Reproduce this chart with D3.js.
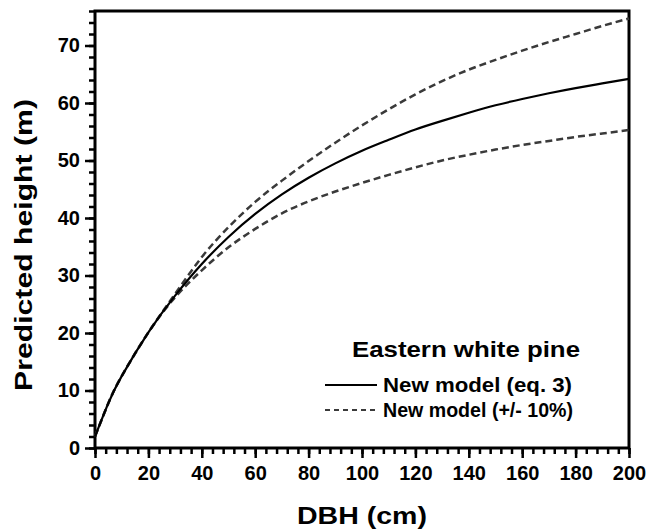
<!DOCTYPE html>
<html>
<head>
<meta charset="utf-8">
<script src="https://cdn.jsdelivr.net/npm/d3@7"></script>
<style>
  body { margin: 0; background: #fff; }
  svg { display: block; font-family: "Liberation Sans", Arial, sans-serif; font-weight: bold; }
</style>
</head>
<body>
<svg id="chart" width="650" height="531"></svg>
<script>
const dbh = [0, 5, 10, 20, 30, 40, 50, 60, 70, 80, 90, 100, 110, 120, 130, 140, 150, 160, 170, 180, 190, 200];
// predicted height (m), new model eq. 3
const heightModel = [2.0, 7.8, 12.5, 20.1, 26.5, 32.0, 36.7, 40.7, 44.1, 47.0, 49.5, 51.7, 53.6, 55.4, 56.9, 58.3, 59.6, 60.7, 61.7, 62.6, 63.4, 64.2];
// +10% / -10% bands
const heightUpper = [2.0, 7.8, 12.5, 20.1, 26.8, 33.2, 38.4, 42.8, 46.5, 49.9, 53.1, 56.1, 58.9, 61.5, 63.8, 65.8, 67.5, 69.1, 70.6, 72.0, 73.4, 74.7];
const heightLower = [2.0, 7.8, 12.5, 20.1, 26.2, 30.9, 34.9, 38.1, 40.8, 42.9, 44.6, 46.1, 47.5, 48.8, 50.0, 51.0, 51.9, 52.7, 53.4, 54.1, 54.7, 55.3];

const xTicks = [0, 20, 40, 60, 80, 100, 120, 140, 160, 180, 200];
const yTicks = [0, 10, 20, 30, 40, 50, 60, 70];

const svg = d3.select('#chart');
const margin = { top: 11, right: 21, bottom: 83, left: 95 };
const width = 650, height = 531;

const x = d3.scaleLinear().domain([0, 200]).range([margin.left, width - margin.right]);
const y = d3.scaleLinear().domain([0, 76]).range([height - margin.bottom, margin.top]);

// minor ticks first (outward), then major ticks with labels
const xMinor = d3.range(0, 201, 4);
const yMinor = d3.range(0, 77, 2);

const styleTicks = g => {
  g.select('.domain').remove();
  g.selectAll('line').attr('stroke', '#000').attr('stroke-width', 2.5);
  g.selectAll('text').attr('fill', '#000')
    .style('font-size', '20px')
    .style('font-family', 'Liberation Sans, Arial, sans-serif')
    .style('font-weight', 'bold');
};

svg.append('g')
  .attr('transform', 'translate(0,' + y(0) + ')')
  .call(d3.axisBottom(x).tickValues(xMinor).tickSize(6).tickFormat(''))
  .call(styleTicks);

svg.append('g')
  .attr('transform', 'translate(' + x(0) + ',0)')
  .call(d3.axisLeft(y).tickValues(yMinor).tickSize(6).tickFormat(''))
  .call(styleTicks);

svg.append('g')
  .attr('transform', 'translate(0,' + y(0) + ')')
  .call(d3.axisBottom(x).tickValues(xTicks).tickSize(10).tickPadding(8))
  .call(styleTicks);

svg.append('g')
  .attr('transform', 'translate(' + x(0) + ',0)')
  .call(d3.axisLeft(y).tickValues(yTicks).tickSize(10).tickPadding(5))
  .call(styleTicks);

// frame
svg.append('rect')
  .attr('x', x(0)).attr('y', y(76))
  .attr('width', x(200) - x(0)).attr('height', y(0) - y(76))
  .attr('fill', 'none').attr('stroke', '#000').attr('stroke-width', 3);

// curves
const line = d3.line()
  .x((d, i) => x(dbh[i]))
  .y(d => y(d))
  .curve(d3.curveNatural);

svg.append('path').attr('d', line(heightUpper))
  .attr('fill', 'none').attr('stroke', '#3a3a3a').attr('stroke-width', 2.5).attr('stroke-dasharray', '7,4');
svg.append('path').attr('d', line(heightLower))
  .attr('fill', 'none').attr('stroke', '#3a3a3a').attr('stroke-width', 2.5).attr('stroke-dasharray', '7,4');
svg.append('path').attr('d', line(heightModel))
  .attr('fill', 'none').attr('stroke', '#000').attr('stroke-width', 2.2);

// axis titles
svg.append('text')
  .attr('x', 362).attr('y', 524)
  .attr('text-anchor', 'middle')
  .attr('textLength', 130).attr('lengthAdjust', 'spacingAndGlyphs')
  .style('font-size', '24px')
  .text('DBH (cm)');

svg.append('text')
  .attr('transform', 'translate(32,245) rotate(-90)')
  .attr('text-anchor', 'middle')
  .attr('textLength', 292).attr('lengthAdjust', 'spacingAndGlyphs')
  .style('font-size', '24px')
  .text('Predicted height (m)');

// legend
const legend = svg.append('g');
legend.append('text')
  .attr('x', 466).attr('y', 357)
  .attr('text-anchor', 'middle')
  .attr('textLength', 228).attr('lengthAdjust', 'spacingAndGlyphs')
  .style('font-size', '22px')
  .text('Eastern white pine');

legend.append('line')
  .attr('x1', 325).attr('x2', 377).attr('y1', 385).attr('y2', 385)
  .attr('stroke', '#000').attr('stroke-width', 2.2);
legend.append('text')
  .attr('x', 383).attr('y', 392)
  .attr('textLength', 189).attr('lengthAdjust', 'spacingAndGlyphs')
  .style('font-size', '20px')
  .text('New model (eq. 3)');

legend.append('line')
  .attr('x1', 325).attr('x2', 377).attr('y1', 410).attr('y2', 410)
  .attr('stroke', '#3a3a3a').attr('stroke-width', 2).attr('stroke-dasharray', '5,4');
legend.append('text')
  .attr('x', 383).attr('y', 417)
  .attr('textLength', 190).attr('lengthAdjust', 'spacingAndGlyphs')
  .style('font-size', '20px')
  .text('New model (+/- 10%)');
</script>
</body>
</html>
